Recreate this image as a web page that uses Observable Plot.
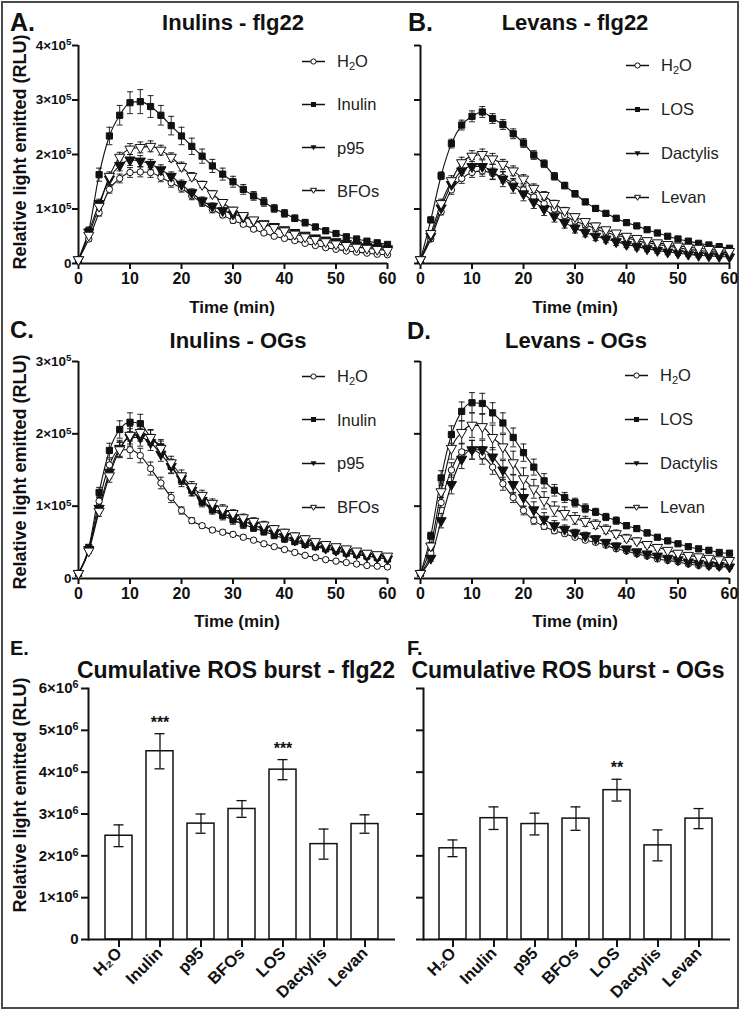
<!DOCTYPE html>
<html><head><meta charset="utf-8">
<script src="https://cdn.jsdelivr.net/npm/d3@7"></script>
<script src="https://cdn.jsdelivr.net/npm/@observablehq/plot@0.6"></script>
<style>
body{margin:0;background:#fff;font-family:"Liberation Sans",Arial,Helvetica,sans-serif;color:#111;}
#fig{position:relative;width:743px;height:1011px;overflow:hidden;background:#fff;}
.frame{position:absolute;left:1px;top:1px;width:734px;height:1004px;border:2px solid #4a4a4a;}
.t{position:absolute;white-space:nowrap;line-height:1;}
.c{transform:translate(-50%,-50%);}
.l{transform:translate(0,-50%);}
.rot{transform:translate(-50%,-50%) rotate(-90deg);}
.leg{position:absolute;display:flex;align-items:center;transform:translate(0,-50%);font-size:16.5px;color:#222;white-space:nowrap;}
.leg svg{display:block;margin-right:12px;}
svg.plot{position:absolute;overflow:visible;}
</style></head>
<body><div id="fig"><div class="frame"></div></div>
<script>
// ---------- data ----------
const times = [0,2,4,6,8,10,12,14,16,18,20,22,24,26,28,30,32,34,36,38,40,42,44,46,48,50,52,54,56,58,60];
const xTicks = [0,10,20,30,40,50,60];
const yTicksFlg = [0,1,2,3,4];
const yTickLabelsFlg = ["0","1×10⁵","2×10⁵","3×10⁵","4×10⁵"];
const yTicksOG = [0,1,2,3];
const yTickLabelsOG = ["0","1×10⁵","2×10⁵","3×10⁵"];
const barTicks = [0,1,2,3,4,5,6];
const barTickLabels = ["0","1×10⁶","2×10⁶","3×10⁶","4×10⁶","5×10⁶","6×10⁶"];

// Panel A: Inulins - flg22 (×10^5 RLU)
const A_H2O = [0.07,0.45,0.93,1.36,1.56,1.67,1.68,1.67,1.58,1.48,1.38,1.24,1.11,0.99,0.89,0.79,0.72,0.63,0.56,0.5,0.46,0.42,0.37,0.33,0.29,0.26,0.23,0.21,0.19,0.17,0.16];
const A_H2O_err = [0.02,0.04,0.06,0.07,0.08,0.09,0.09,0.09,0.08,0.08,0.07,0.07,0.06,0.06,0.05,0.05,0.04,0.04,0.03,0.03,0.03,0.03,0.02,0.02,0.02,0.02,0.02,0.02,0.02,0.02,0.02];
const A_Inulin = [0.07,0.6,1.63,2.34,2.72,2.95,2.97,2.88,2.72,2.53,2.34,2.15,1.97,1.79,1.64,1.5,1.36,1.24,1.13,1.01,0.92,0.83,0.75,0.67,0.6,0.55,0.49,0.45,0.41,0.38,0.35];
const A_Inulin_err = [0.03,0.07,0.12,0.16,0.18,0.2,0.22,0.2,0.18,0.17,0.16,0.15,0.13,0.12,0.11,0.1,0.09,0.08,0.08,0.07,0.07,0.06,0.06,0.05,0.05,0.04,0.04,0.04,0.03,0.03,0.03];
const A_p95 = [0.07,0.58,1.1,1.55,1.8,1.9,1.88,1.82,1.72,1.6,1.45,1.3,1.15,1.05,0.97,0.91,0.85,0.79,0.73,0.68,0.62,0.57,0.52,0.47,0.43,0.4,0.37,0.34,0.31,0.29,0.27];
const A_p95_err = [0.02,0.05,0.08,0.1,0.1,0.1,0.1,0.09,0.09,0.08,0.08,0.07,0.07,0.06,0.06,0.05,0.05,0.05,0.04,0.04,0.04,0.04,0.03,0.03,0.03,0.03,0.03,0.03,0.02,0.02,0.02];
const A_BFOs = [0.07,0.52,1.05,1.6,1.95,2.1,2.13,2.15,2.08,1.95,1.78,1.6,1.45,1.28,1.12,0.98,0.88,0.8,0.72,0.66,0.6,0.54,0.49,0.44,0.4,0.36,0.33,0.3,0.28,0.26,0.24];
const A_BFOs_err = [0.02,0.04,0.07,0.08,0.09,0.1,0.1,0.1,0.09,0.08,0.08,0.07,0.06,0.06,0.05,0.05,0.04,0.04,0.04,0.03,0.03,0.03,0.03,0.03,0.02,0.02,0.02,0.02,0.02,0.02,0.02];

// Panel B: Levans - flg22
const B_H2O = [0.07,0.45,0.95,1.35,1.56,1.67,1.7,1.65,1.58,1.47,1.35,1.22,1.1,1.0,0.88,0.78,0.71,0.64,0.57,0.52,0.47,0.42,0.38,0.35,0.32,0.29,0.26,0.24,0.22,0.21,0.2];
const B_H2O_err = [0.02,0.04,0.06,0.08,0.09,0.09,0.1,0.1,0.1,0.09,0.09,0.08,0.08,0.07,0.06,0.06,0.05,0.05,0.04,0.04,0.04,0.03,0.03,0.03,0.03,0.03,0.02,0.02,0.02,0.02,0.02];
const B_LOS = [0.07,0.8,1.61,2.2,2.54,2.7,2.78,2.66,2.55,2.38,2.21,1.99,1.83,1.6,1.43,1.28,1.13,1.01,0.92,0.83,0.75,0.69,0.62,0.56,0.5,0.45,0.41,0.37,0.34,0.31,0.28];
const B_LOS_err = [0.02,0.05,0.07,0.08,0.09,0.1,0.1,0.09,0.09,0.09,0.08,0.08,0.07,0.07,0.06,0.06,0.05,0.05,0.04,0.04,0.04,0.04,0.03,0.03,0.03,0.03,0.03,0.03,0.03,0.02,0.02];
const B_Dactylis = [0.07,0.5,1.02,1.45,1.7,1.78,1.78,1.68,1.55,1.42,1.28,1.13,1.0,0.87,0.75,0.65,0.57,0.5,0.45,0.4,0.35,0.31,0.27,0.24,0.21,0.19,0.17,0.15,0.14,0.13,0.12];
const B_Dactylis_err = [0.02,0.05,0.08,0.1,0.12,0.13,0.14,0.14,0.14,0.13,0.13,0.12,0.12,0.11,0.1,0.09,0.08,0.08,0.07,0.07,0.06,0.06,0.05,0.05,0.05,0.04,0.04,0.04,0.04,0.03,0.03];
const B_Levan = [0.07,0.55,1.1,1.52,1.85,1.97,2.0,1.92,1.82,1.7,1.55,1.38,1.25,1.1,0.97,0.86,0.77,0.69,0.62,0.56,0.5,0.46,0.42,0.38,0.35,0.32,0.3,0.28,0.26,0.24,0.22];
const B_Levan_err = [0.02,0.05,0.08,0.09,0.1,0.1,0.1,0.1,0.09,0.09,0.08,0.08,0.07,0.06,0.06,0.05,0.05,0.05,0.04,0.04,0.04,0.04,0.03,0.03,0.03,0.03,0.03,0.03,0.02,0.02,0.02];

// Panel C: Inulins - OGs
const C_H2O = [0.07,0.4,1.07,1.57,1.78,1.78,1.7,1.52,1.32,1.12,0.94,0.8,0.73,0.67,0.64,0.61,0.57,0.53,0.48,0.44,0.4,0.36,0.32,0.29,0.26,0.24,0.22,0.2,0.18,0.17,0.16];
const C_H2O_err = [0.02,0.03,0.06,0.08,0.1,0.12,0.1,0.09,0.08,0.07,0.05,0.04,0.03,0.03,0.03,0.03,0.03,0.02,0.02,0.02,0.02,0.02,0.02,0.02,0.02,0.02,0.02,0.02,0.02,0.02,0.02];
const C_Inulin = [0.07,0.43,1.19,1.77,2.06,2.16,2.14,1.95,1.82,1.55,1.36,1.22,1.06,0.95,0.87,0.81,0.75,0.7,0.65,0.6,0.55,0.51,0.47,0.44,0.41,0.38,0.35,0.33,0.31,0.29,0.27];
const C_Inulin_err = [0.02,0.03,0.07,0.1,0.12,0.13,0.13,0.1,0.1,0.1,0.09,0.08,0.07,0.06,0.06,0.06,0.06,0.05,0.05,0.05,0.05,0.04,0.04,0.04,0.03,0.03,0.03,0.03,0.03,0.03,0.03];
const C_p95 = [0.07,0.4,0.97,1.47,1.8,1.95,1.95,1.88,1.72,1.55,1.38,1.22,1.08,0.97,0.9,0.84,0.79,0.74,0.68,0.63,0.58,0.53,0.49,0.46,0.42,0.39,0.36,0.34,0.31,0.29,0.27];
const C_p95_err = [0.02,0.03,0.07,0.09,0.11,0.12,0.12,0.11,0.1,0.09,0.08,0.07,0.07,0.06,0.06,0.05,0.05,0.05,0.05,0.04,0.04,0.04,0.04,0.03,0.03,0.03,0.03,0.03,0.03,0.02,0.02];
const C_BFOs = [0.07,0.38,0.93,1.42,1.78,1.98,2.02,1.95,1.8,1.6,1.42,1.27,1.15,1.04,0.96,0.9,0.84,0.79,0.74,0.69,0.64,0.59,0.55,0.51,0.47,0.44,0.41,0.38,0.35,0.33,0.31];
const C_BFOs_err = [0.02,0.03,0.07,0.09,0.11,0.12,0.12,0.11,0.1,0.09,0.08,0.07,0.07,0.06,0.06,0.05,0.05,0.05,0.05,0.04,0.04,0.04,0.04,0.03,0.03,0.03,0.03,0.03,0.03,0.02,0.02];

// Panel D: Levans - OGs
const D_H2O = [0.07,0.35,1.05,1.5,1.75,1.78,1.7,1.54,1.31,1.12,0.94,0.8,0.72,0.66,0.62,0.57,0.53,0.5,0.46,0.41,0.38,0.34,0.31,0.27,0.25,0.23,0.2,0.18,0.17,0.16,0.16];
const D_H2O_err = [0.02,0.04,0.07,0.1,0.12,0.13,0.12,0.1,0.09,0.07,0.06,0.05,0.04,0.04,0.03,0.03,0.03,0.03,0.03,0.02,0.02,0.02,0.02,0.02,0.02,0.02,0.02,0.02,0.02,0.02,0.02];
const D_LOS = [0.07,0.59,1.39,1.99,2.31,2.43,2.42,2.29,2.15,1.95,1.74,1.54,1.35,1.22,1.12,1.05,0.97,0.92,0.85,0.8,0.73,0.69,0.63,0.57,0.52,0.48,0.44,0.41,0.39,0.36,0.35];
const D_LOS_err = [0.02,0.05,0.1,0.12,0.13,0.14,0.14,0.14,0.14,0.13,0.12,0.11,0.1,0.08,0.07,0.06,0.06,0.05,0.05,0.05,0.04,0.04,0.04,0.03,0.03,0.03,0.03,0.03,0.03,0.03,0.03];
const D_Dactylis = [0.07,0.28,0.8,1.3,1.65,1.78,1.78,1.68,1.5,1.3,1.12,0.95,0.82,0.73,0.68,0.63,0.59,0.55,0.5,0.45,0.41,0.37,0.34,0.31,0.28,0.26,0.23,0.21,0.19,0.18,0.16];
const D_Dactylis_err = [0.02,0.04,0.1,0.13,0.13,0.13,0.13,0.13,0.13,0.13,0.12,0.11,0.09,0.07,0.06,0.05,0.05,0.04,0.04,0.04,0.03,0.03,0.03,0.03,0.03,0.02,0.02,0.02,0.02,0.02,0.02];
const D_Levan = [0.07,0.45,1.2,1.8,2.02,2.12,2.1,1.95,1.82,1.6,1.38,1.24,1.08,0.96,0.9,0.83,0.79,0.75,0.68,0.62,0.56,0.52,0.47,0.43,0.39,0.35,0.32,0.3,0.28,0.26,0.25];
const D_Levan_err = [0.02,0.05,0.12,0.15,0.16,0.17,0.17,0.17,0.17,0.16,0.15,0.13,0.12,0.1,0.09,0.08,0.07,0.06,0.06,0.05,0.05,0.04,0.04,0.04,0.03,0.03,0.03,0.03,0.03,0.03,0.03];

// Panels E, F: cumulative ROS burst (×10^6 RLU)
const categories = ["H₂O","Inulin","p95","BFOs","LOS","Dactylis","Levan"];
const flgMean = [2.48,4.5,2.77,3.12,4.06,2.28,2.76];
const flgErr = [0.26,0.42,0.23,0.2,0.24,0.36,0.22];
const flgSig = ["","***","","","***","",""];
const ogMean = [2.18,2.9,2.76,2.89,3.57,2.25,2.89];
const ogErr = [0.2,0.27,0.26,0.28,0.26,0.37,0.24];
const ogSig = ["","","","","**","",""];

// ---------- drawing ----------
const fig = document.getElementById("fig");
const INK = "#111";
const FONT = "'Liberation Sans', Arial, Helvetica, sans-serif";
const cap = {draw(ctx){ ctx.moveTo(-3,0); ctx.lineTo(3,0); }};
// style per series position: 0 open circle, 1 filled square, 2 filled down-triangle, 3 open down-triangle
const markerStyles = [
  {symbol:"circle", r:3.2, fill:"white", rotate:0},
  {symbol:"square", r:3.5, fill:INK, rotate:0},
  {symbol:"triangle", r:3.8, fill:INK, rotate:180},
  {symbol:"triangle", r:3.8, fill:"white", rotate:180}
];
const SUP = {"⁰":"0","¹":"1","²":"2","³":"3","⁴":"4","⁵":"5","⁶":"6","⁷":"7","⁸":"8","⁹":"9"};

function text(str, x, y, cls, css){
  const d = document.createElement("div");
  d.className = "t " + cls;
  d.innerHTML = str;
  d.style.left = x + "px"; d.style.top = y + "px";
  Object.assign(d.style, css || {});
  fig.appendChild(d);
}

// render superscript exponents of tick labels as raised tspans (still real text)
function fixSuperscripts(svg){
  svg.querySelectorAll("text").forEach(t => {
    const s = t.textContent;
    const m = s.match(/^(.*×10)([⁰¹²³⁴⁵⁶⁷⁸⁹])$/);
    if (!m) return;
    t.textContent = m[1];
    const ts = document.createElementNS("http://www.w3.org/2000/svg", "tspan");
    ts.setAttribute("dy", "-0.45em");
    ts.setAttribute("font-size", "0.72em");
    ts.textContent = SUP[m[2]];
    t.appendChild(ts);
  });
}

function place(svg, left, top){
  svg.classList.add("plot");
  svg.style.left = left + "px"; svg.style.top = top + "px";
  fixSuperscripts(svg);
  fig.appendChild(svg);
}

function linePanel(cfg){
  const rows = [];
  cfg.series.forEach((s, k) => s.values.forEach((v, i) => rows.push({k, t: times[i], v, e: s.err[i]})));
  const marks = [
    Plot.axisX({ticks: xTicks, tickSize: 6, tickPadding: 3, strokeWidth: 2, stroke: INK, fill: INK,
      fontSize: 16, fontWeight: "bold", label: null, tickFormat: d => String(d)}),
    Plot.axisY({ticks: cfg.yTicks, tickSize: 6, tickPadding: 1, strokeWidth: 2, stroke: INK, fill: INK,
      fontSize: 13.5, fontWeight: "bold", label: null,
      tickFormat: d => cfg.yLabels ? cfg.yLabels[cfg.yTicks.indexOf(d)] : ""}),
    Plot.ruleY([0], {stroke: INK, strokeWidth: 2}),
    Plot.ruleX([0], {stroke: INK, strokeWidth: 2})
  ];
  cfg.series.forEach((s, k) => {
    marks.push(Plot.line(rows.filter(r => r.k === k), {x: "t", y: "v", curve: "monotone-x", stroke: INK, strokeWidth: 1.1}));
  });
  marks.push(Plot.ruleX(rows, {x: "t", y1: d => d.v - d.e, y2: d => d.v + d.e, stroke: INK, strokeWidth: 0.9}));
  marks.push(Plot.dot(rows, {x: "t", y: d => d.v + d.e, symbol: cap, stroke: INK, strokeWidth: 0.9, fill: "none"}));
  marks.push(Plot.dot(rows, {x: "t", y: d => d.v - d.e, symbol: cap, stroke: INK, strokeWidth: 0.9, fill: "none"}));
  cfg.series.forEach((s, k) => {
    const st = markerStyles[k];
    marks.push(Plot.dot(rows.filter(r => r.k === k), {x: "t", y: "v", symbol: st.symbol, r: st.r, fill: st.fill,
      stroke: INK, strokeWidth: 1, rotate: st.rotate}));
  });
  const svg = Plot.plot({
    width: 400, height: cfg.height, marginLeft: 78, marginRight: 13, marginTop: 45, marginBottom: 57,
    x: {domain: [0, 60]}, y: {domain: cfg.yDomain},
    style: {fontFamily: FONT, color: INK, background: "transparent", overflow: "visible"},
    marks
  });
  place(svg, cfg.left, cfg.top);
}

function barPanel(cfg){
  const rows = categories.map((c, i) => ({c, v: cfg.mean[i], e: cfg.err[i], s: cfg.sig[i]}));
  const svg = Plot.plot({
    width: 400, height: 369, marginLeft: cfg.ml, marginRight: cfg.mr, marginTop: 48, marginBottom: 70,
    x: {domain: categories, range: cfg.range, paddingInner: 0.35, paddingOuter: 0.175},
    y: {domain: [0, 6]},
    style: {fontFamily: FONT, color: INK, background: "transparent", overflow: "visible"},
    marks: [
      Plot.barY(rows, {x: "c", y: "v", fill: "white", stroke: INK, strokeWidth: 1.5}),
      Plot.ruleX(rows, {x: "c", y1: d => d.v - d.e, y2: d => d.v + d.e, stroke: INK, strokeWidth: 1.3}),
      Plot.tickY(rows, {x: "c", y: d => d.v + d.e, stroke: INK, strokeWidth: 1.3, insetLeft: 8.5, insetRight: 8.5}),
      Plot.tickY(rows, {x: "c", y: d => d.v - d.e, stroke: INK, strokeWidth: 1.3, insetLeft: 8.5, insetRight: 8.5}),
      Plot.text(rows, {x: "c", y: d => d.v + d.e, text: "s", dy: -11, fontSize: 16, fontWeight: "bold", fill: INK}),
      Plot.axisX({tickRotate: -45, tickSize: 8, tickPadding: 3, strokeWidth: 2, stroke: INK, fill: INK,
        fontSize: 16.5, fontWeight: "bold", label: null}),
      Plot.axisY({ticks: barTicks, tickSize: 7, tickPadding: 3, strokeWidth: 2, stroke: INK, fill: INK,
        fontSize: 15, fontWeight: "bold", label: null,
        tickFormat: d => cfg.showLabels ? barTickLabels[barTicks.indexOf(d)] : ""}),
      Plot.ruleY([0], {stroke: INK, strokeWidth: 2}),
      Plot.frame({anchor: "left", stroke: INK, strokeWidth: 2})
    ]
  });
  place(svg, cfg.left, cfg.top);
}

linePanel({left: 0, top: 0, height: 320, yDomain: [0, 4], yTicks: yTicksFlg, yLabels: yTickLabelsFlg,
  series: [{values: A_H2O, err: A_H2O_err}, {values: A_Inulin, err: A_Inulin_err}, {values: A_p95, err: A_p95_err}, {values: A_BFOs, err: A_BFOs_err}]});
linePanel({left: 342, top: 0, height: 320, yDomain: [0, 4], yTicks: yTicksFlg, yLabels: null,
  series: [{values: B_H2O, err: B_H2O_err}, {values: B_LOS, err: B_LOS_err}, {values: B_Dactylis, err: B_Dactylis_err}, {values: B_Levan, err: B_Levan_err}]});
linePanel({left: 0, top: 316, height: 319, yDomain: [0, 3], yTicks: yTicksOG, yLabels: yTickLabelsOG,
  series: [{values: C_H2O, err: C_H2O_err}, {values: C_Inulin, err: C_Inulin_err}, {values: C_p95, err: C_p95_err}, {values: C_BFOs, err: C_BFOs_err}]});
linePanel({left: 342, top: 316, height: 319, yDomain: [0, 3], yTicks: yTicksOG, yLabels: null,
  series: [{values: D_H2O, err: D_H2O_err}, {values: D_LOS, err: D_LOS_err}, {values: D_Dactylis, err: D_Dactylis_err}, {values: D_Levan, err: D_Levan_err}]});

barPanel({left: 0, top: 640, ml: 88, mr: 5, range: [95.1, 387.7], mean: flgMean, err: flgErr, sig: flgSig, showLabels: true});
barPanel({left: 342, top: 640, ml: 81, mr: 12, range: [87.1, 379.7], mean: ogMean, err: ogErr, sig: ogSig, showLabels: false});

// ---------- text ----------
text("A.", 10, 22, "l", {fontSize: "25px", fontWeight: "bold"});
text("B.", 408, 22, "l", {fontSize: "25px", fontWeight: "bold"});
text("C.", 10, 330, "l", {fontSize: "24px", fontWeight: "bold"});
text("D.", 407, 331, "l", {fontSize: "24px", fontWeight: "bold"});
text("E.", 10, 648, "l", {fontSize: "20px", fontWeight: "bold"});
text("F.", 407, 648, "l", {fontSize: "20px", fontWeight: "bold"});

text("Inulins - flg22", 233, 23, "c", {fontSize: "22px", fontWeight: "bold"});
text("Levans - flg22", 575, 23, "c", {fontSize: "22px", fontWeight: "bold"});
text("Inulins - OGs", 238, 341, "c", {fontSize: "22px", fontWeight: "bold"});
text("Levans - OGs", 576, 341, "c", {fontSize: "22px", fontWeight: "bold"});
text("Cumulative ROS burst - flg22", 236, 670, "c", {fontSize: "23px", fontWeight: "bold"});
text("Cumulative ROS burst - OGs", 568, 670, "c", {fontSize: "23px", fontWeight: "bold"});

text("Time (min)", 232, 307, "c", {fontSize: "17px", fontWeight: "bold"});
text("Time (min)", 575, 307, "c", {fontSize: "17px", fontWeight: "bold"});
text("Time (min)", 237, 621, "c", {fontSize: "17px", fontWeight: "bold"});
text("Time (min)", 575, 621, "c", {fontSize: "17px", fontWeight: "bold"});

text("Relative light emitted (RLU)", 20, 152, "rot", {fontSize: "18px", fontWeight: "bold"});
text("Relative light emitted (RLU)", 20, 472, "rot", {fontSize: "18px", fontWeight: "bold"});
text("Relative light emitted (RLU)", 20, 795, "rot", {fontSize: "18px", fontWeight: "bold"});

// ---------- legends ----------
const symSvg = [
  '<circle cx="11.5" cy="6" r="2.6" fill="white" stroke="#111" stroke-width="1"/>',
  '<rect x="9" y="3.5" width="5" height="5" fill="#111"/>',
  '<path d="M8.5,3.8 L14.5,3.8 L11.5,8.8 Z" fill="#111"/>',
  '<path d="M8.5,3.8 L14.5,3.8 L11.5,8.8 Z" fill="white" stroke="#111" stroke-width="1"/>'
];
function legend(x, y0, step, names){
  names.forEach((n, i) => {
    const d = document.createElement("div");
    d.className = "leg";
    d.style.left = x + "px"; d.style.top = (y0 + i * step) + "px";
    d.innerHTML = '<svg width="23" height="12"><line x1="0" y1="6" x2="23" y2="6" stroke="#111" stroke-width="1.3"/>' + symSvg[i] + '</svg><span>' + n + '</span>';
    fig.appendChild(d);
  });
}
const H2Oh = 'H<sub style="font-size:11px;vertical-align:-3px;line-height:0">2</sub>O';
legend(302, 61, 43.3, [H2Oh, "Inulin", "p95", "BFOs"]);
legend(626, 65, 44, [H2Oh, "LOS", "Dactylis", "Levan"]);
legend(302, 376, 43.7, [H2Oh, "Inulin", "p95", "BFOs"]);
legend(625, 375, 44, [H2Oh, "LOS", "Dactylis", "Levan"]);
</script>
</body></html>
